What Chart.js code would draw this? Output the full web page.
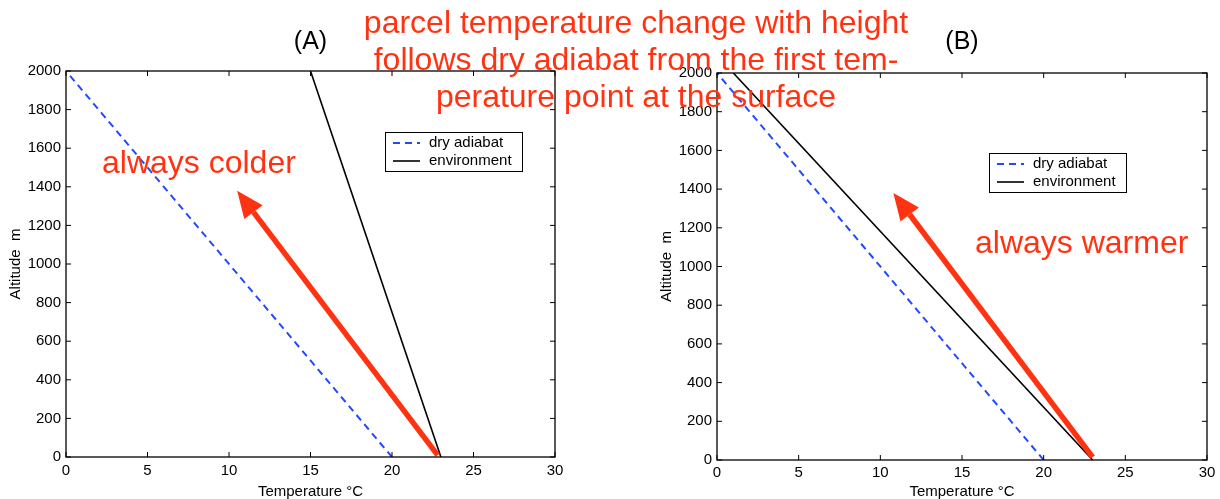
<!DOCTYPE html>
<html>
<head>
<meta charset="utf-8">
<script src="https://cdn.jsdelivr.net/npm/chart.js@4.4.0/dist/chart.umd.min.js"></script>
<style>
  body { margin: 0; background: #fff; width: 1220px; height: 499px; overflow: hidden; position: relative;
         font-family: "Liberation Sans", Arial, sans-serif; }
  canvas { position: absolute; top: 0; }
  #chartA { left: 0; }
  #chartB { left: 610px; }
  .note { position: absolute; color: #ff3311; font-size: 32px; white-space: nowrap; line-height: 37px; }
</style>
</head>
<body>
<canvas id="chartA" width="610" height="499"></canvas>
<canvas id="chartB" width="610" height="499"></canvas>

<div class="note" style="left:236px; top:4px; width:800px; text-align:center;">
  parcel temperature change with height<br>
  follows dry adiabat from the first tem-<br>
  perature point at the surface
</div>
<div class="note" style="left:102px; top:144px;">always colder</div>
<div class="note" style="left:975px; top:224px;">always warmer</div>

<script>
// altitude of the two end points of each line (m)
var altitude = [0, 2000];
// temperature at those altitudes (deg C)
var dryAdiabat = [20, 0];
var environmentA = [23, 15];
var environmentB = [23, 1];

// red arrows, [temperature, altitude]
var arrowFromA = [22.8, 10];
var arrowToA = [10.5, 1380];
var arrowFromB = [23, 15];
var arrowToB = [10.8, 1380];

var xTicks = [0, 5, 10, 15, 20, 25, 30];
var yTicks = [0, 200, 400, 600, 800, 1000, 1200, 1400, 1600, 1800, 2000];

var RED = '#ff3311';
var BLUE = '#2448ff';
var FONT = '"Liberation Sans", Arial, sans-serif';

function points(temps) {
  return altitude.map(function (h, i) { return { x: temps[i], y: h }; });
}

function drawArrow(ctx, x1, y1, x2, y2) {
  var ang = Math.atan2(y2 - y1, x2 - x1);
  var headLen = 27, headW = 11.5;
  var bx = x2 - headLen * Math.cos(ang), by = y2 - headLen * Math.sin(ang);
  ctx.strokeStyle = RED;
  ctx.lineWidth = 5.5;
  ctx.beginPath();
  ctx.moveTo(x1, y1);
  ctx.lineTo(bx, by);
  ctx.stroke();
  ctx.fillStyle = RED;
  ctx.beginPath();
  ctx.moveTo(x2, y2);
  ctx.lineTo(bx + headW * Math.sin(ang), by - headW * Math.cos(ang));
  ctx.lineTo(bx - headW * Math.sin(ang), by + headW * Math.cos(ang));
  ctx.closePath();
  ctx.fill();
}

// matlab style box, inward ticks, arrow and legend inside the axes
var matlabBox = {
  id: 'matlabBox',
  afterDatasetsDraw: function (chart, args, opts) {
    var ctx = chart.ctx, a = chart.chartArea;
    var xs = chart.scales.x, ys = chart.scales.y;
    ctx.save();

    drawArrow(ctx, xs.getPixelForValue(opts.arrowFrom[0]), ys.getPixelForValue(opts.arrowFrom[1]),
              xs.getPixelForValue(opts.arrowTo[0]), ys.getPixelForValue(opts.arrowTo[1]));

    ctx.strokeStyle = '#000';
    ctx.lineWidth = 1.3;
    ctx.strokeRect(a.left, a.top, a.right - a.left, a.bottom - a.top);
    ctx.lineWidth = 1;
    ctx.beginPath();
    xTicks.forEach(function (v) {
      var px = xs.getPixelForValue(v);
      ctx.moveTo(px, a.bottom); ctx.lineTo(px, a.bottom - 5);
      ctx.moveTo(px, a.top); ctx.lineTo(px, a.top + 5);
    });
    yTicks.forEach(function (v) {
      var py = ys.getPixelForValue(v);
      ctx.moveTo(a.left, py); ctx.lineTo(a.left + 5, py);
      ctx.moveTo(a.right, py); ctx.lineTo(a.right - 5, py);
    });
    ctx.stroke();

    // legend
    var lx = a.left + opts.legendX, ly = a.top + opts.legendY;
    ctx.fillStyle = '#fff';
    ctx.fillRect(lx, ly, 137, 39);
    ctx.strokeStyle = '#000';
    ctx.lineWidth = 1;
    ctx.strokeRect(lx + 0.5, ly + 0.5, 137, 39);
    ctx.font = '15px ' + FONT;
    ctx.textBaseline = 'middle';
    chart.data.datasets.forEach(function (ds, i) {
      var yy = ly + 11 + i * 18;
      ctx.strokeStyle = ds.borderColor;
      ctx.lineWidth = ds.borderWidth;
      ctx.setLineDash(ds.borderDash || []);
      ctx.beginPath();
      ctx.moveTo(lx + 8, yy); ctx.lineTo(lx + 35, yy);
      ctx.stroke();
      ctx.setLineDash([]);
      ctx.fillStyle = '#000';
      ctx.fillText(ds.label, lx + 44, yy);
    });
    ctx.restore();
  }
};

function plain(v) { return String(v); }

function makeChart(id, envTemps, title, padLeft, padRight, titleBottom, xHeight, xPad, box) {
  return new Chart(document.getElementById(id), {
    type: 'scatter',
    data: {
      datasets: [{
        label: 'dry adiabat',
        data: points(dryAdiabat),
        showLine: true,
        borderColor: BLUE,
        borderWidth: 2,
        borderDash: [7, 5],
        pointRadius: 0
      }, {
        label: 'environment',
        data: points(envTemps),
        showLine: true,
        borderColor: '#000',
        borderWidth: 1.6,
        pointRadius: 0
      }]
    },
    options: {
      responsive: false,
      animation: false,
      layout: { padding: { left: padLeft, right: padRight, top: 0, bottom: 0 } },
      plugins: {
        legend: { display: false },
        tooltip: { enabled: false },
        title: {
          display: true,
          text: title,
          fullSize: false,
          color: '#000',
          font: { family: FONT, size: 25, weight: 'normal' },
          padding: { top: 27, bottom: titleBottom }
        },
        matlabBox: box
      },
      scales: {
        x: {
          type: 'linear', min: 0, max: 30,
          afterBuildTicks: function (s) { s.ticks = xTicks.map(function (v) { return { value: v }; }); },
          afterFit: function (s) { s.height = xHeight; },
          grid: { display: false, drawTicks: false },
          border: { display: false },
          ticks: { color: '#000', padding: xPad, maxRotation: 0, callback: plain, font: { family: FONT, size: 15 } },
          title: { display: true, text: 'Temperature \u00B0C', color: '#000', padding: 0,
                   font: { family: FONT, size: 15, lineHeight: 1 } }
        },
        y: {
          type: 'linear', min: 0, max: 2000,
          afterBuildTicks: function (s) { s.ticks = yTicks.map(function (v) { return { value: v }; }); },
          afterFit: function (s) { s.width = 66; },
          grid: { display: false, drawTicks: false },
          border: { display: false },
          ticks: { color: '#000', padding: 5, callback: plain, font: { family: FONT, size: 15 } },
          title: { display: true, text: 'Altitude  m', color: '#000', padding: { top: 8, bottom: 0 },
                   font: { family: FONT, size: 15, lineHeight: 1 } }
        }
      }
    },
    plugins: [matlabBox]
  });
}

makeChart('chartA', environmentA, '(A)', 0, 55, 14, 42, 5,
          { legendX: 319, legendY: 61, arrowFrom: arrowFromA, arrowTo: arrowToA });
makeChart('chartB', environmentB, '(B)', 41, 13, 16, 39, 4,
          { legendX: 272, legendY: 80, arrowFrom: arrowFromB, arrowTo: arrowToB });
</script>
</body>
</html>
